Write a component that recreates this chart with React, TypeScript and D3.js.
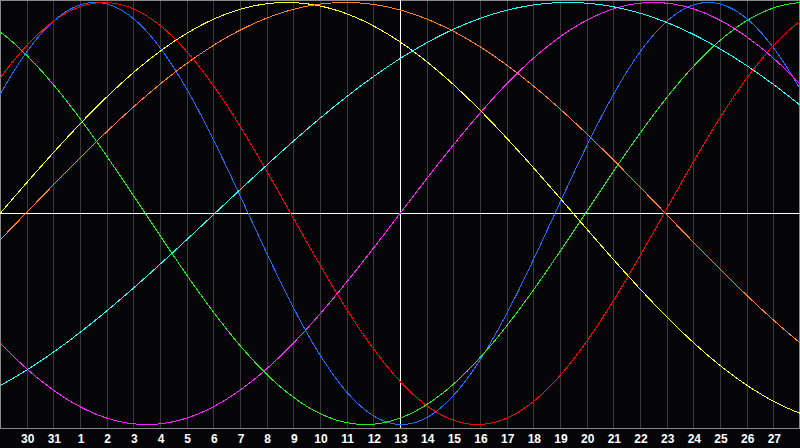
import React, { useEffect, useRef } from 'react';
import * as d3 from 'd3';

// day labels under each grid line, today (13) sits in the middle
const dayLabels = ['30', '31', '1', '2', '3', '4', '5', '6', '7', '8', '9', '10', '11', '12', '13',
  '14', '15', '16', '17', '18', '19', '20', '21', '22', '23', '24', '25', '26', '27'];
const dayOffsets = d3.range(-14, 15); // relative to today

// biorhythm cycles: period in days, day of the peak relative to today
const cycleNames = ['physical', 'emotional', 'intellectual', 'intuitive', 'aesthetic', 'awareness', 'spiritual'];
const cyclePeriods = [23, 28, 33, 38, 43, 48, 53];
const cyclePeaks = [-11.44, -11.1, -17.8, 9.5, -4.25, -2.04, 6.3];
const cycleColors = ['#1e6eff', '#ff0000', '#22ee22', '#ff22ff', '#ffff22', '#ff7f22', '#22ffff'];

const W = 800;
const H = 448;
const plotBottom = 428;

const App: React.FC = () => {
  const svgRef = useRef<SVGSVGElement>(null);

  useEffect(() => {
    if (!svgRef.current) return;
    const svg = d3.select(svgRef.current);
    svg.selectAll('*').remove();

    const x = d3.scaleLinear().domain([-15, 15]).range([0, W]);
    const y = d3.scaleLinear().domain([-1, 1]).range([424.5, 2.5]);

    svg.append('rect').attr('width', W).attr('height', H).attr('fill', '#050508');

    // vertical day grid
    svg.append('g')
      .selectAll('line')
      .data(dayOffsets)
      .enter()
      .append('line')
      .attr('x1', d => Math.round(x(d)) + 0.5)
      .attr('x2', d => Math.round(x(d)) + 0.5)
      .attr('y1', 0)
      .attr('y2', plotBottom)
      .attr('stroke', '#3a3a3c')
      .attr('shape-rendering', 'crispEdges');

    // frame
    svg.append('rect')
      .attr('x', 0.5).attr('y', 0.5)
      .attr('width', W - 1.5).attr('height', plotBottom - 0.5)
      .attr('fill', 'none')
      .attr('stroke', '#8a8a8a')
      .attr('shape-rendering', 'crispEdges');

    // today + zero lines
    svg.append('line')
      .attr('x1', 0).attr('x2', W)
      .attr('y1', 213.5).attr('y2', 213.5)
      .attr('stroke', '#ffffff')
      .attr('shape-rendering', 'crispEdges');
    svg.append('line')
      .attr('x1', x(0) + 0.5).attr('x2', x(0) + 0.5)
      .attr('y1', 0).attr('y2', plotBottom)
      .attr('stroke', '#ffffff')
      .attr('shape-rendering', 'crispEdges');

    // cycles
    const ts = d3.range(-15, 15.01, 0.05);
    const line = d3.line<number>().x(d => x(d[0])).y(d => y(d[1]));
    cycleNames.forEach((name, i) => {
      const pts = ts.map(t => [t, Math.cos((2 * Math.PI * (t - cyclePeaks[i])) / cyclePeriods[i])]);
      svg.append('path')
        .datum(pts as any)
        .attr('fill', 'none')
        .attr('stroke', cycleColors[i])
        .attr('stroke-width', 1)
        .attr('shape-rendering', 'crispEdges')
        .attr('d', line as any)
        .append('title').text(name);
    });

    // day labels
    svg.append('g')
      .selectAll('text')
      .data(dayOffsets)
      .enter()
      .append('text')
      .attr('x', d => x(d) + 1)
      .attr('y', 443)
      .attr('text-anchor', 'middle')
      .attr('fill', '#ffffff')
      .attr('font-family', 'Liberation Sans, Arial, sans-serif')
      .attr('font-weight', 'bold')
      .attr('font-size', '12px')
      .text((d, i) => dayLabels[i]);
  }, []);

  return (
    <div style={{ position: 'fixed', left: 0, top: 0, width: W, height: H }}>
      <svg ref={svgRef} width={W} height={H} style={{ display: 'block' }} />
    </div>
  );
};

export default App;
